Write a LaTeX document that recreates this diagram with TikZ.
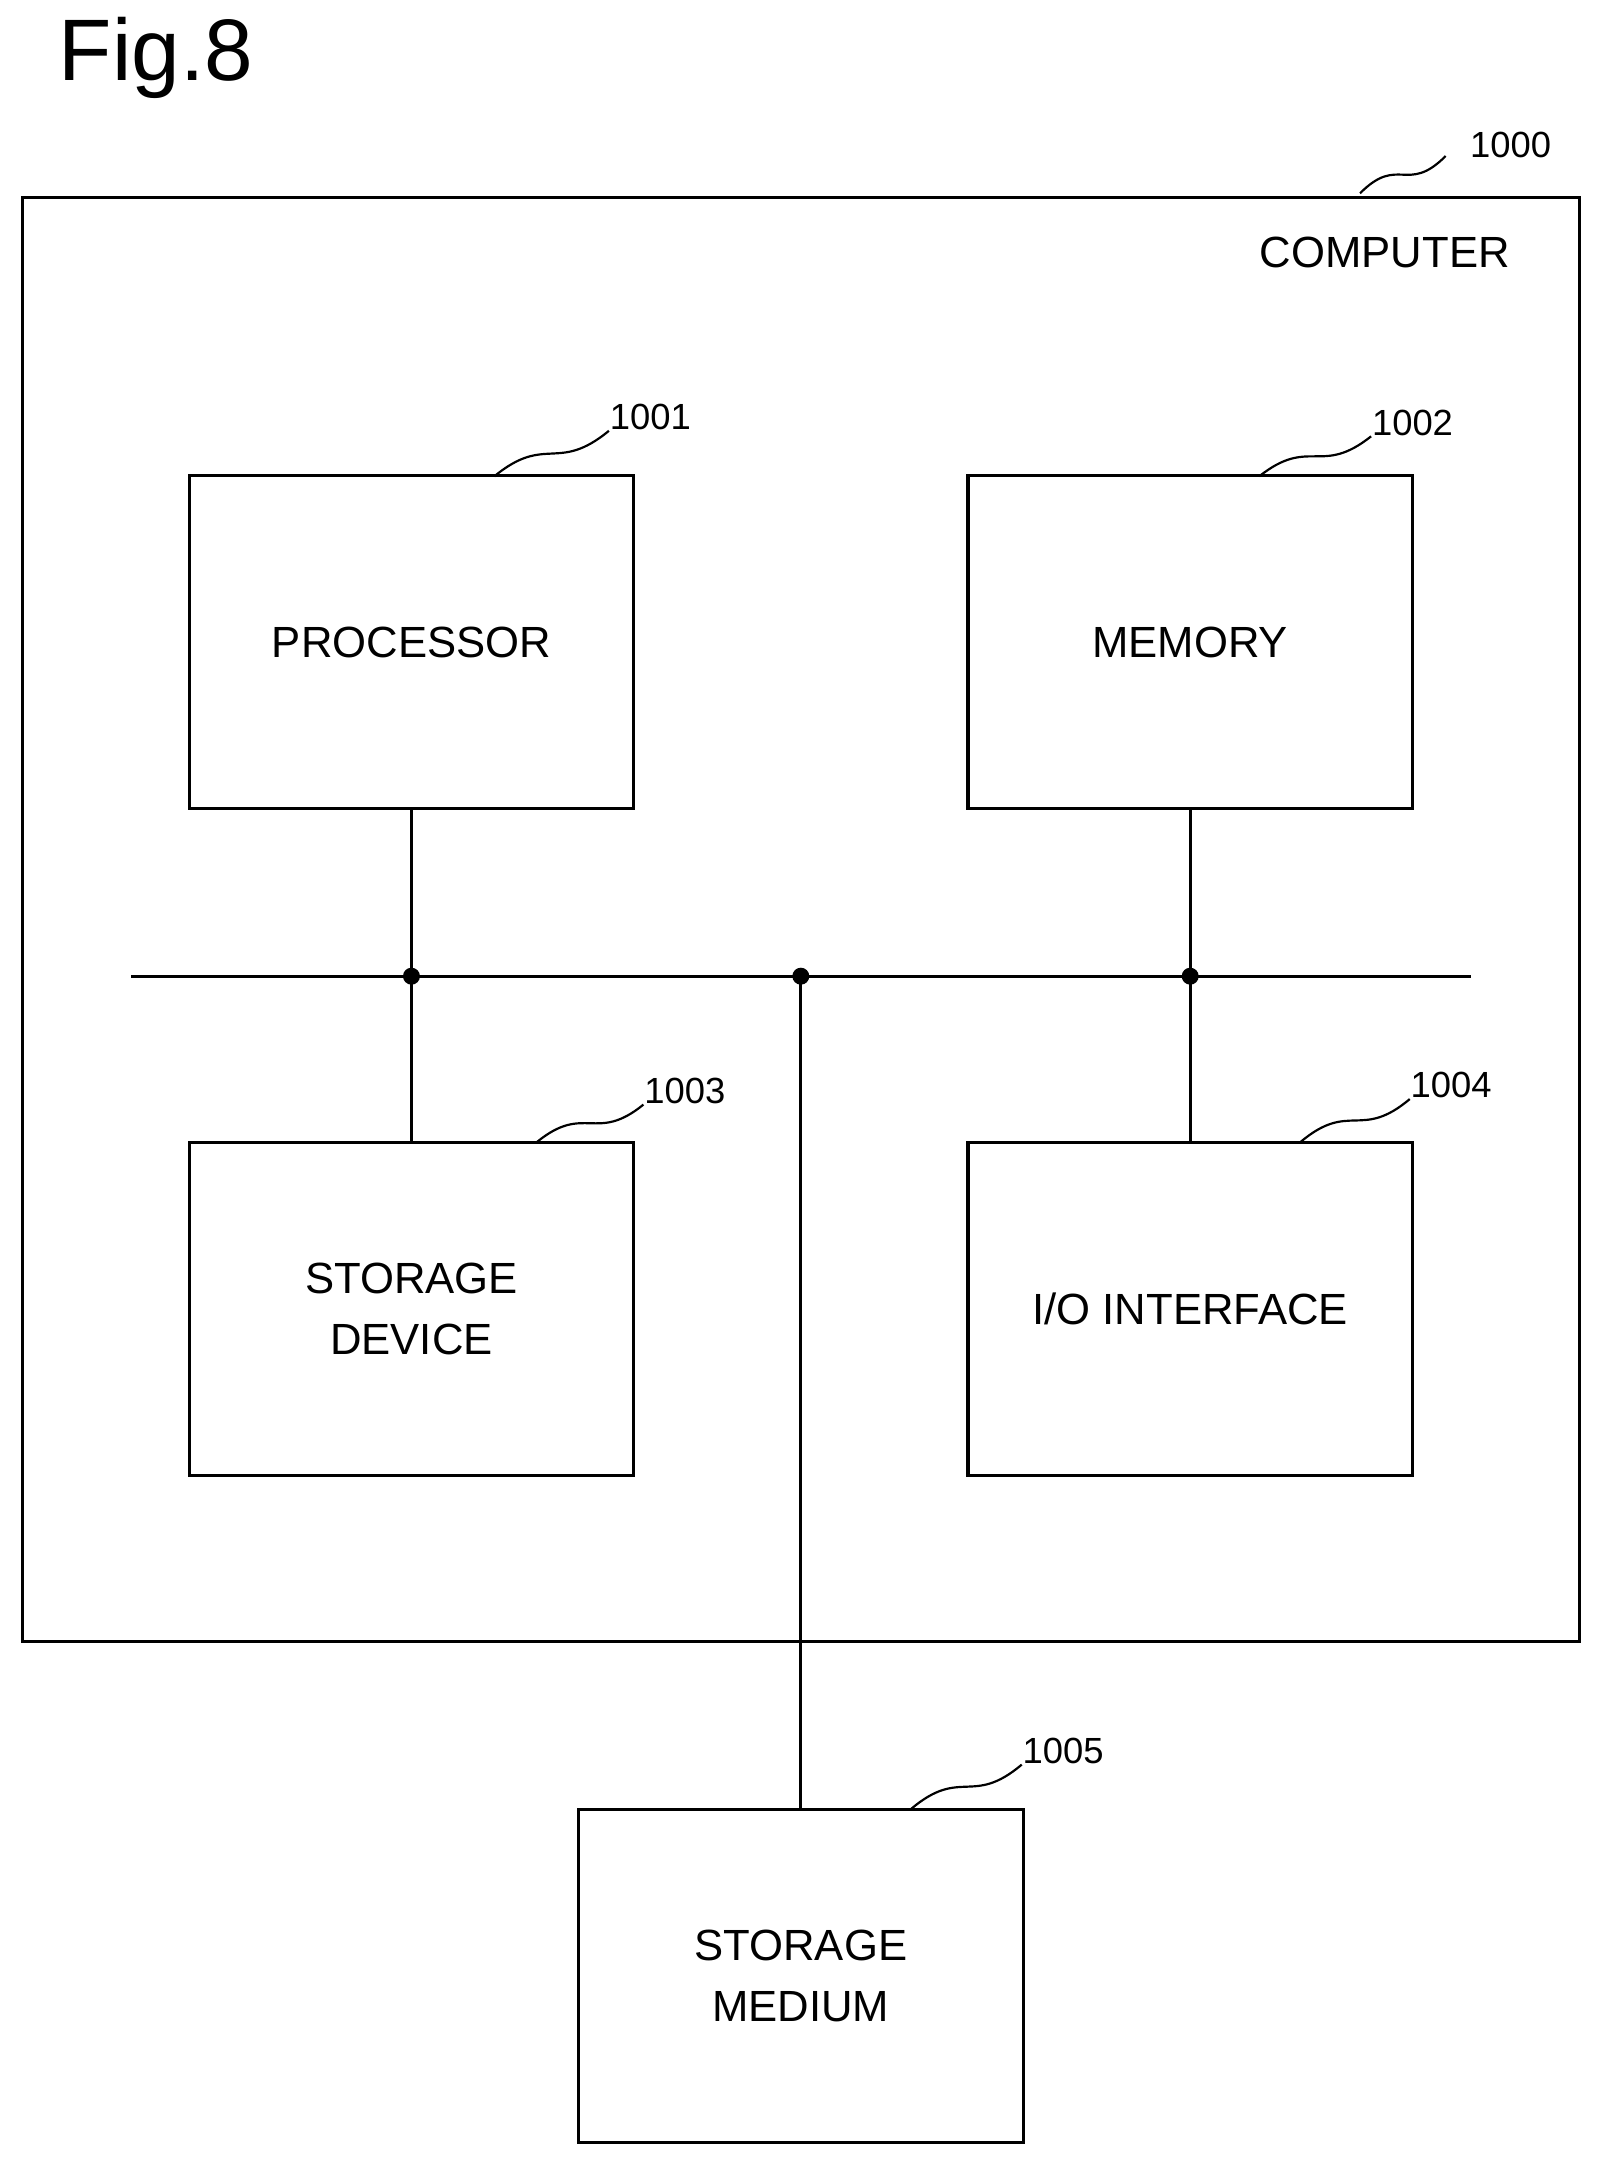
\documentclass[tikz,border=0pt]{standalone}
\usepackage{fontspec}
\setmainfont{Liberation Sans}
\usetikzlibrary{positioning,calc}
\tikzset{
  blk/.style={draw, line width=1.3pt, minimum width=6.44cm, minimum height=4.82cm, align=center, font=\fontsize{18}{25}\selectfont},
  ref/.style={font=\fontsize{15}{18}\selectfont},
  dot/.style={circle, fill, inner sep=0pt, minimum size=7pt},
  wire/.style={line width=1.3pt}
}
\newcommand{\leadline}[2]{\draw[line width=0.9pt] (#1) .. controls ($(#1)!0.45!(#2)+(0,-16)$) and ($(#1)!0.55!(#2)+(0,16)$) .. (#2);}
\begin{document}
\begin{tikzpicture}[x=0.02cm, y=-0.02cm]
    \useasboundingbox (0,0) rectangle (1160,1568);
    \node[font=\fontsize{36}{40}\selectfont] (fig) at (113,42) {Fig.8};

    % computer frame
    \draw[line width=1.3pt] (16,143) rectangle (1144,1189);
    \node[font=\fontsize{18}{20}\selectfont] (comp) at (1003,183) {COMPUTER};
    \node[ref] (n1000) at (1094,105) {1000};
    \coordinate (l1000) at (985,140);
    \leadline{l1000}{1047,113}

    % blocks
    \node[blk] (proc) at (298,465) {PROCESSOR};
    \node[blk] (mem) at (862,465) {MEMORY};
    \node[blk] (stdev) at (298,948) {STORAGE\\DEVICE};
    \node[blk] (io) at (862,948) {I/O INTERFACE};
    \node[blk] (stmed) at (580,1431) {STORAGE\\MEDIUM};

    % reference numbers
    \foreach \nm/\txt/\sx/\sy/\lx/\ly in {
        proc/1001/358/345/471/302,
        mem/1002/912/345/1023/306,
        stdev/1003/389/827/496/790,
        io/1004/942/827/1051/786,
        stmed/1005/660/1310/770/1268} {
        \node[ref] (n\txt) at (\lx,\ly) {\txt};
        \coordinate (s\txt) at (\sx,\sy);
        \leadline{s\txt}{\lx-30,\ly+10}
    }

    % bus
    \coordinate (busL) at (95,707);
    \coordinate (busR) at (1065,707);
    \node[dot] (j1) at (298,707) {};
    \node[dot] (j2) at (580,707) {};
    \node[dot] (j3) at (862,707) {};
    \draw[wire] (busL) -- (busR);
    \draw[wire] (proc.south) -- (j1.center) -- (stdev.north);
    \draw[wire] (mem.south) -- (j3.center) -- (io.north);
    \draw[wire] (j2.center) -- (stmed.north);
\end{tikzpicture}
\end{document}
